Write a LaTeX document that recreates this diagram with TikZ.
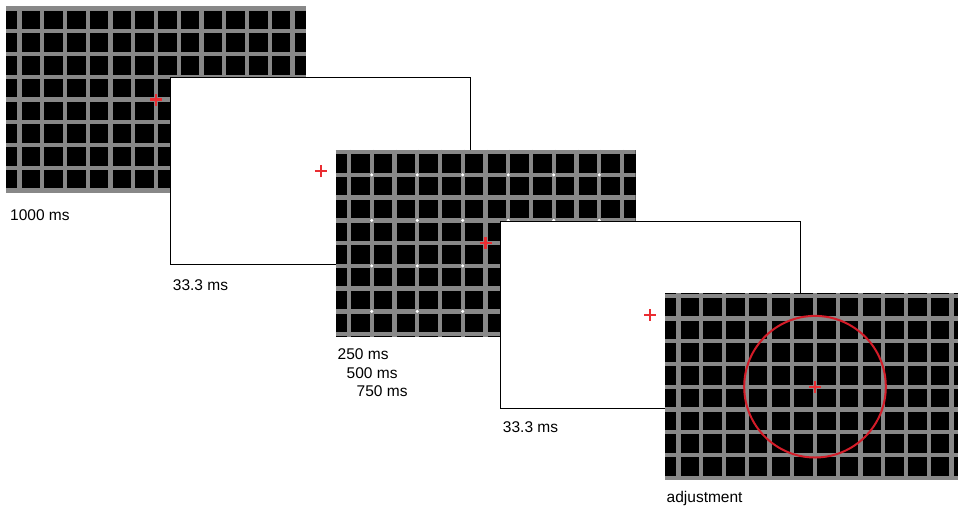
\documentclass[tikz,border=0pt]{standalone}
\usepackage{xcolor}
\usepackage{fontspec}
\setmainfont{Liberation Sans}
\usepackage{tikz}
\usetikzlibrary{positioning,calc}

\definecolor{gridgray}{RGB}{136,136,136}
\definecolor{fixred}{RGB}{234,45,50}
\definecolor{probered}{RGB}{212,28,40}

\newcommand{\drawgrid}[1]{%
  \begin{scope}
    \clip (#1.south west) rectangle (#1.north east);
    \begin{scope}[shift={(#1.north west)}]
      \foreach \i in {-1,...,13}
        \draw[gridline] (13.5+22.75*\i,0) -- ++(0,-187);
      \foreach \j in {0,...,8}
        \draw[gridline] (0,-2.5-22.75*\j) -- ++(300,0);
    \end{scope}
  \end{scope}}

\begin{document}
\begin{tikzpicture}[
    x=1pt,
    y=1pt,
    screen/.style={
        rectangle,
        minimum width=300pt,
        minimum height=187pt,
        inner sep=0pt,
        outer sep=0pt
      },
    gridscr/.style={screen,fill=black},
    blankscr/.style={screen,fill=white,draw=black,line width=0.9pt},
    gridline/.style={gridgray,line width=4.3pt},
    crossline/.style={fixred,line width=2.2pt},
    probe/.style={probered,line width=2pt},
    timing/.style={font=\fontsize{15.5}{18}\selectfont,inner sep=0pt,anchor=base west},
    fixcross/.pic={\draw[crossline] (-6,0)--(6,0) (0,-6)--(0,6);}
    ]

    \useasboundingbox (0,0) rectangle (958,-507);
    \clip (0,0) rectangle (958,-507);

    \node[gridscr,anchor=north west] (fixscr) at (6,-6) {};
    \drawgrid{fixscr}
    \pic at (fixscr.center) {fixcross};
    \node[below right=27.5pt and 4pt of fixscr.south west,timing] (fixtime) {1000 ms};

    \node[blankscr,below right=71.8pt and 164.75pt of fixscr.north west] (blankA) {};
    \pic at (blankA.center) {fixcross};
    \node[below right=26pt and 2pt of blankA.south west,timing] (blankAtime) {33.3 ms};

    \node[gridscr,below right=71.8pt and 164.75pt of blankA.north west] (targetscr) {};
    \drawgrid{targetscr}
    \begin{scope}[shift={(targetscr.north west)}]
      \foreach \i in {1,3,...,11}
        \foreach \j in {1,3,5,7}
          \fill[white] (13.5+22.75*\i,-2.5-22.75*\j) circle (1.7);
    \end{scope}
    \pic at (targetscr.center) {fixcross};
    \node[below right=23pt and 2pt of targetscr.south west,timing] (soaA) {250 ms};
    \node[below right=18.5pt and 9pt of soaA.base west,timing] (soaB) {500 ms};
    \node[below right=18.5pt and 10pt of soaB.base west,timing] (soaC) {750 ms};

    \node[blankscr,below right=71.8pt and 164.75pt of targetscr.north west] (blankB) {};
    \pic at (blankB.center) {fixcross};
    \node[below right=24pt and 2.5pt of blankB.south west,timing] (blankBtime) {33.3 ms};

    \node[gridscr,below right=71.8pt and 164.75pt of blankB.north west] (adjscr) {};
    \drawgrid{adjscr}
    \draw[probe] (adjscr.center) circle (70.8);
    \pic at (adjscr.center) {fixcross};
    \node[below right=22pt and 1.5pt of adjscr.south west,timing] (adjlabel) {adjustment};

  \end{tikzpicture}
\end{document}
